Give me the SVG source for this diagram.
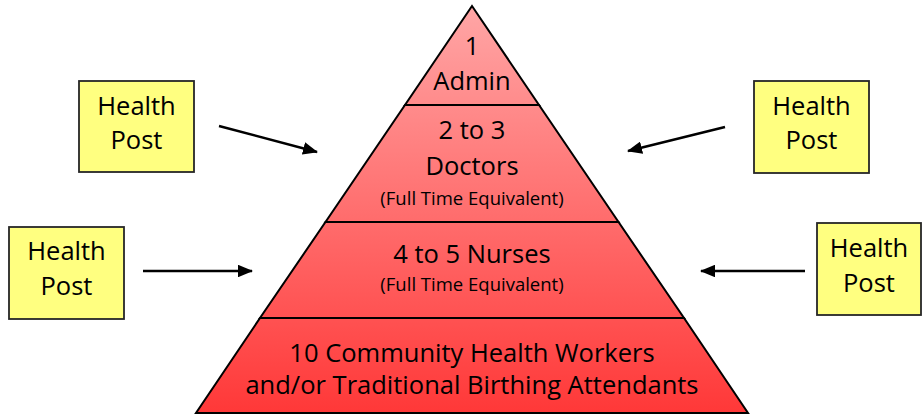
<svg xmlns="http://www.w3.org/2000/svg" width="922" height="417" viewBox="0 0 922 417">
<style>
.box{fill:#FFFF80;stroke:#262626;stroke-width:1.8}
.band{fill:url(#pg);stroke:#000;stroke-width:2;stroke-linejoin:miter}
.t{font-family:"Open Sans","Liberation Sans",Arial,sans-serif;font-size:25.5px;fill:#000;text-anchor:middle}
.s{font-family:"Open Sans","Liberation Sans",Arial,sans-serif;font-size:18.5px;fill:#000;text-anchor:middle}
.conn{stroke:#000;stroke-width:2.5;fill:none;marker-end:url(#ah)}
</style>
<defs>
<linearGradient id="pg" gradientUnits="userSpaceOnUse" x1="0" y1="6" x2="0" y2="413">
<stop offset="0" stop-color="#FFA6A6"/>
<stop offset="1" stop-color="#FF3838"/>
</linearGradient>
<marker id="ah" markerWidth="6" markerHeight="5" refX="5.6" refY="2.5" orient="auto" markerUnits="strokeWidth">
<path d="M0,0 L6,2.5 L0,5 Z" fill="#000"/>
</marker>
</defs>
<rect width="922" height="417" fill="#fff"/>
<g id="pyramid">
<g id="tier-admin">
<polygon class="band" points="472,6 539,105 405,105"/>
<text class="t" x="472" y="55">1</text>
<text class="t" x="472" y="90">Admin</text>
</g>
<g id="tier-doctors">
<polygon class="band" points="405,105 539,105 618.5,222 325.5,222"/>
<text class="t" x="472" y="139">2 to 3</text>
<text class="t" x="472" y="175">Doctors</text>
<text class="s" x="472" y="205">(Full Time Equivalent)</text>
</g>
<g id="tier-nurses">
<polygon class="band" points="325.5,222 618.5,222 684,318 260,318"/>
<text class="t" x="472" y="263">4 to 5 Nurses</text>
<text class="s" x="472" y="291">(Full Time Equivalent)</text>
</g>
<g id="tier-chw">
<polygon class="band" points="260,318 684,318 748,413 196,413"/>
<text class="t" x="472" y="362">10 Community Health Workers</text>
<text class="t" x="472" y="394">and/or Traditional Birthing Attendants</text>
</g>
</g>
<g id="hp1">
<rect class="box" x="79" y="81" width="115" height="91"/>
<text class="t" x="136.5" y="115">Health</text>
<text class="t" x="136.5" y="149">Post</text>
</g>
<g id="hp2">
<rect class="box" x="9" y="227" width="115" height="92"/>
<text class="t" x="66.5" y="260">Health</text>
<text class="t" x="66.5" y="295">Post</text>
</g>
<g id="hp3">
<rect class="box" x="754" y="81" width="115" height="92"/>
<text class="t" x="811.5" y="115">Health</text>
<text class="t" x="811.5" y="149">Post</text>
</g>
<g id="hp4">
<rect class="box" x="817" y="223" width="104" height="92"/>
<text class="t" x="869" y="257">Health</text>
<text class="t" x="869" y="292">Post</text>
</g>
<g id="connectors">
<line class="conn" x1="219" y1="126" x2="317" y2="152"/>
<line class="conn" x1="143" y1="271" x2="252" y2="271"/>
<line class="conn" x1="725" y1="127" x2="628" y2="151"/>
<line class="conn" x1="805" y1="271" x2="701" y2="271"/>
</g>
</svg>
